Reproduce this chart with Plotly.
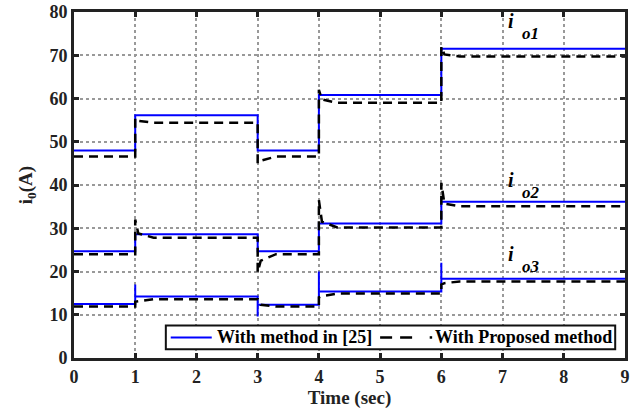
import plotly.graph_objects as go

# ---- data ----
t_step = [0, 1, 1, 3, 3, 4, 4, 6, 6, 9]
blue_io1 = [48, 48, 56.1, 56.1, 48, 48, 60.8, 60.8, 71.5, 71.5]
blue_io2 = [24.7, 24.7, 28.6, 28.6, 24.7, 24.7, 31.1, 31.1, 36.1, 36.1]

t_blue3 = [0, 1, 1, 1, 3, 3, 3, 4, 4, 4, 6, 6, 6, 9]
blue_io3 = [12.5, 12.5, 17, 14.2, 14.2, 9.6, 12.3, 12.3, 20, 15.4, 15.4, 22, 18.3, 18.3]

t_black = [0, 1, 1, 1.05, 1.3, 3, 3, 3.05, 3.3, 4, 4, 4.05, 4.3, 6, 6, 6.05, 6.3, 9]
black_io1 = [46.6, 46.6, 55.5, 54.8, 54.4, 54.4, 45, 45.6, 46.6, 46.6, 62, 59.8, 59.0, 59.0, 72, 70.2, 69.7, 69.7]
black_io2 = [24.0, 24.0, 32, 28.8, 27.8, 27.8, 19.8, 22.5, 24.0, 24.0, 36.5, 31.5, 30.2, 30.2, 40.5, 35.7, 35.1, 35.1]
black_io3 = [11.9, 11.9, 13.0, 13.1, 13.6, 13.6, 13.3, 12.3, 11.9, 11.9, 14.0, 14.3, 14.9, 14.9, 17.0, 17.3, 17.7, 17.7]

x_ticks = list(range(0, 10))
y_ticks = list(range(0, 90, 10))

labels = ["o1", "o2", "o3"]
label_x = [7.14, 7.14, 7.14]
label_y = [78.0, 41.2, 24.0]

legend_names = ["With method in [25]", "With Proposed method"]

FONT = "Liberation Serif"
BLUE_LINE = dict(color="#0000FF", width=2)
BLACK_LINE = dict(color="black", width=2.5, dash="9px,6px")

fig = go.Figure()

for t, y in [(t_step, blue_io1), (t_step, blue_io2), (t_blue3, blue_io3)]:
    fig.add_trace(go.Scatter(x=t, y=y, mode="lines", name=legend_names[0],
                             legendgroup="b", showlegend=False, line=BLUE_LINE))

for y in [black_io1, black_io2, black_io3]:
    fig.add_trace(go.Scatter(x=t_black, y=y, mode="lines", name=legend_names[1],
                             legendgroup="k", showlegend=False, line=BLACK_LINE))

for lab, lx, ly in zip(labels, label_x, label_y):
    fig.add_annotation(x=lx, y=ly, xref="x", yref="y", showarrow=False,
                       text="<b><i>i</i></b>", font=dict(family=FONT, size=20, color="black"),
                       xanchor="center", yanchor="middle")
    fig.add_annotation(x=lx + 0.32, y=ly - 2.9, xref="x", yref="y", showarrow=False,
                       text="<b><i>" + lab + "</i></b>", font=dict(family=FONT, size=17, color="black"),
                       xanchor="center", yanchor="middle")

# ---- legend box (drawn in the style of the reference) ----
lg_y = 4.75
fig.add_shape(type="rect", xref="x", yref="y", x0=1.5, x1=8.84, y0=2.0, y1=7.5,
              line=dict(color="#111111", width=2), fillcolor="white", layer="above")
fig.add_shape(type="line", xref="x", yref="y", x0=1.58, x1=2.25, y0=lg_y, y1=lg_y,
              line=BLUE_LINE, layer="above")
fig.add_annotation(x=2.31, y=lg_y, xref="x", yref="y", showarrow=False, xanchor="left",
                   yanchor="middle", text="<b>" + legend_names[0] + "</b>",
                   font=dict(family=FONT, size=18, color="black"))
fig.add_shape(type="line", xref="x", yref="y", x0=5.0, x1=5.53, y0=lg_y, y1=lg_y,
              line=dict(color="black", width=2.5, dash="12px,8px"), layer="above")
fig.add_shape(type="line", xref="x", yref="y", x0=5.81, x1=5.85, y0=lg_y, y1=lg_y,
              line=dict(color="black", width=2.5), layer="above")
fig.add_annotation(x=5.86, y=lg_y, xref="x", yref="y", showarrow=False, xanchor="left",
                   yanchor="middle", text="<b>" + legend_names[1] + "</b>",
                   font=dict(family=FONT, size=18, color="black"))

axis_common = dict(showline=True, linecolor="#222222", linewidth=3, mirror="ticks",
                   ticks="inside", ticklen=5, tickwidth=2.5, tickcolor="#222222",
                   showgrid=True, gridcolor="#999999", griddash="dot", gridwidth=1.5,
                   zeroline=False, automargin=False,
                   tickfont=dict(family=FONT, size=18, color="#222222"))

fig.update_xaxes(range=[0, 9], tickvals=x_ticks, ticktext=["<b>%d</b>" % v for v in x_ticks],
                 title=dict(text="<b>Time (sec)</b>", font=dict(family=FONT, size=19, color="#222222"), standoff=4),
                 **axis_common)
fig.update_yaxes(range=[0, 80], tickvals=y_ticks, ticktext=["<b>%d</b>" % v for v in y_ticks],
                 title=dict(text="<b>i<sub>0</sub>(A)</b>", font=dict(family=FONT, size=19, color="#222222"), standoff=12),
                 **axis_common)

fig.update_layout(
    width=644, height=413,
    margin=dict(l=74, r=19, t=12, b=55),
    paper_bgcolor="white", plot_bgcolor="white",
    showlegend=False,
)

fig.write_html("out.html")
